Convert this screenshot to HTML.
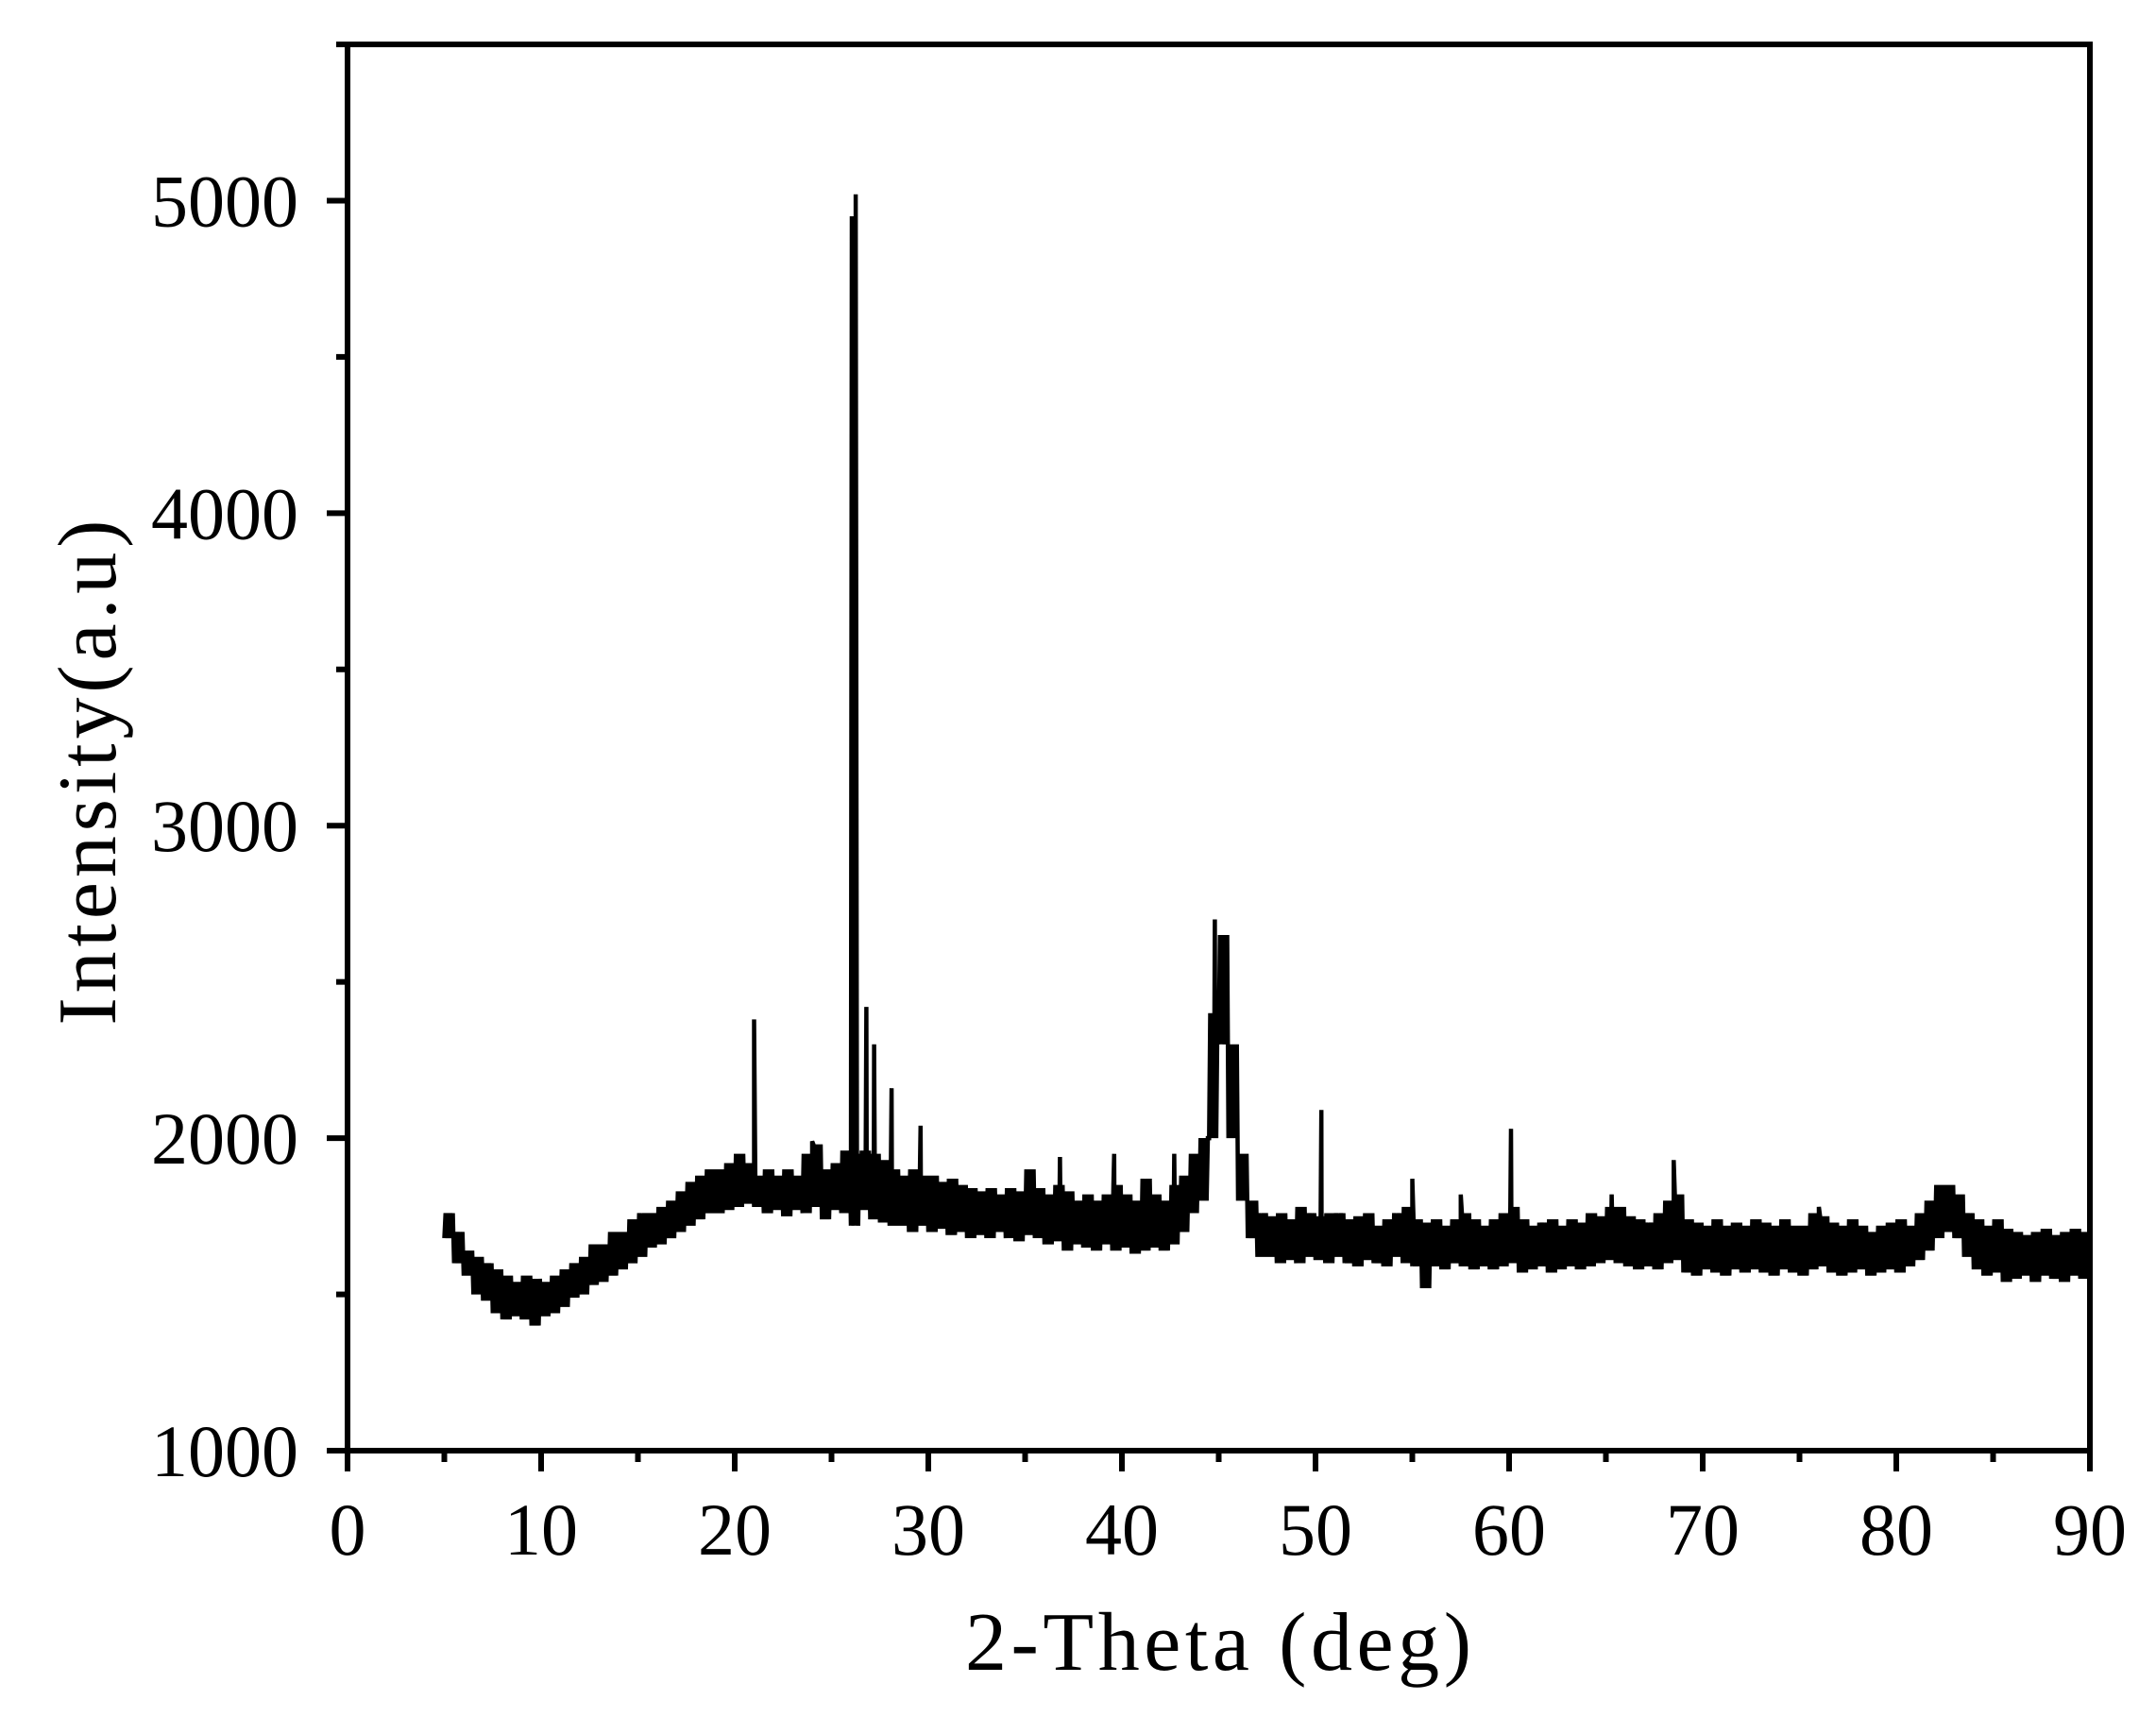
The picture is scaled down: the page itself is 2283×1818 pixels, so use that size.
<!DOCTYPE html>
<html><head><meta charset="utf-8"><style>
html,body{margin:0;padding:0;background:#fff;}
svg{display:block;}
text{font-family:"Liberation Serif",serif;fill:#000;}
</style></head><body>
<svg id="chart" width="2283" height="1818" viewBox="0 0 2283 1818" xmlns="http://www.w3.org/2000/svg">
<g id="ticks"></g>
<path id="series" fill="none" stroke="#000" stroke-width="4.5" stroke-linejoin="miter"/>
<rect x="368" y="47" width="1845" height="1489" fill="none" stroke="#000" stroke-width="6"/>
<text x="1290" y="1768" text-anchor="middle" font-size="88" textLength="536">2-Theta (deg)</text>
<text transform="translate(122,818) rotate(-90)" text-anchor="middle" font-size="88" textLength="535">Intensity(a.u)</text>
</svg>
<script>
const xTicks = [0,10,20,30,40,50,60,70,80,90];
const yTicks = [1000,2000,3000,4000,5000];
const stepStart = 5, stepSize = 0.5;
const upper = [1760,1700,1640,1620,1600,1580,1560,1540,1560,1550,1540,1560,1580,1600,1620,1660,1660,1700,1700,1740,1760,1760,1780,1800,1830,1860,1880,1900,1900,1920,1950,1920,1880,1900,1880,1900,1880,1950,1980,1900,1920,1960,1950,1960,1950,1930,1900,1880,1900,1880,1880,1860,1870,1850,1840,1830,1840,1820,1840,1830,1900,1840,1820,1850,1830,1800,1820,1800,1820,1850,1820,1800,1870,1820,1800,1850,1880,1950,2000,2400,2650,2300,1950,1800,1760,1750,1760,1740,1780,1760,1750,1760,1760,1740,1750,1760,1720,1740,1760,1780,1740,1730,1740,1720,1740,1760,1740,1720,1740,1760,1780,1740,1720,1730,1740,1720,1740,1730,1760,1750,1780,1780,1750,1740,1730,1760,1800,1820,1740,1730,1720,1740,1720,1730,1720,1740,1730,1720,1740,1720,1720,1760,1750,1730,1720,1740,1720,1700,1720,1730,1740,1720,1760,1800,1850,1850,1820,1760,1740,1720,1740,1710,1700,1690,1700,1710,1690,1700,1710,1700,1720];
const lower = [1680,1600,1560,1500,1480,1440,1420,1430,1420,1400,1430,1440,1460,1490,1500,1530,1540,1560,1580,1600,1620,1650,1660,1680,1700,1720,1740,1760,1760,1770,1780,1790,1780,1760,1770,1750,1770,1760,1780,1740,1770,1760,1720,1770,1740,1730,1720,1720,1700,1720,1700,1710,1690,1700,1680,1690,1680,1700,1680,1670,1690,1680,1660,1670,1640,1660,1650,1640,1660,1640,1650,1630,1640,1650,1640,1660,1700,1760,1800,2000,2300,2000,1800,1680,1620,1620,1600,1610,1600,1620,1610,1600,1620,1600,1590,1610,1600,1590,1620,1600,1590,1520,1590,1580,1600,1590,1580,1590,1580,1590,1600,1570,1580,1590,1570,1580,1590,1580,1590,1600,1610,1600,1590,1580,1590,1580,1600,1610,1570,1560,1580,1570,1560,1580,1570,1580,1570,1560,1580,1570,1560,1580,1590,1570,1560,1570,1580,1560,1570,1580,1570,1590,1610,1640,1680,1700,1680,1620,1580,1560,1570,1540,1550,1560,1540,1560,1550,1540,1560,1550,1510];
const peakPos = [21.0,24.0,26.05,26.25,26.8,27.2,28.1,29.6,36.8,39.6,42.7,44.8,50.3,55.0,57.5,60.1,65.3,68.5,76.0];
const peakHeight = [2380,1990,4950,5020,2420,2300,2160,2040,1940,1950,1950,2700,2090,1870,1820,2030,1820,1930,1780];

const X0=368, X1=2213, Y0=1536, Y1=47, XMIN=0, XMAX=90, YMIN=1000, YMAX=5500;
function sx(v){return X0+(v-XMIN)/(XMAX-XMIN)*(X1-X0);}
function sy(v){return Y0-(v-YMIN)/(YMAX-YMIN)*(Y0-Y1);}
const NS="http://www.w3.org/2000/svg";
const svg=document.getElementById('chart');
const tg=document.getElementById('ticks');
function line(x1,y1,x2,y2,name){
  const l=document.createElementNS(NS,'line');
  l.setAttribute('x1',x1);l.setAttribute('y1',y1);l.setAttribute('x2',x2);l.setAttribute('y2',y2);
  l.setAttribute('stroke','#000');l.setAttribute('stroke-width','6');
  
  
  tg.appendChild(l);
}
function label(x,y,t,anchor,name){
  const e=document.createElementNS(NS,'text');
  e.setAttribute('x',x);e.setAttribute('y',y);e.setAttribute('text-anchor',anchor);
  e.setAttribute('font-size','78');e.textContent=t;
  
  
  svg.appendChild(e);
}
xTicks.forEach((t,i)=>{
  line(sx(t),Y0,sx(t),Y0+22,'x-major-tick');
  label(sx(t),1646,String(t),'middle','x-tick-label');
  if(i<xTicks.length-1){ line(sx(t+5),Y0,sx(t+5),Y0+12,'x-minor-tick'); }
});
yTicks.forEach((t,i)=>{
  line(X0-22,sy(t),X0,sy(t),'y-major-tick');
  label(316,sy(t)+27,String(t),'end','y-tick-label');
  line(X0-12,sy(t+500),X0,sy(t+500),'y-minor-tick');
});
// build series: dense zigzag between envelope values
let pts=[];
const sub=8;
for(let i=0;i<upper.length;i++){
  const x=stepStart+i*stepSize;
  for(let k=0;k<sub;k++){
    pts.push([x+k*stepSize/sub, k%2===0?lower[i]:upper[i]]);
  }
}
pts=pts.filter(p=>p[0]<=90);
peakPos.forEach((p,i)=>pts.push([p,peakHeight[i]]));
pts.sort((a,b)=>a[0]-b[0]);
let d='';
pts.forEach((p,i)=>{d+=(i?'L':'M')+sx(p[0]).toFixed(1)+','+sy(p[1]).toFixed(1);});
document.getElementById('series').setAttribute('d',d);
</script>
</body></html>
